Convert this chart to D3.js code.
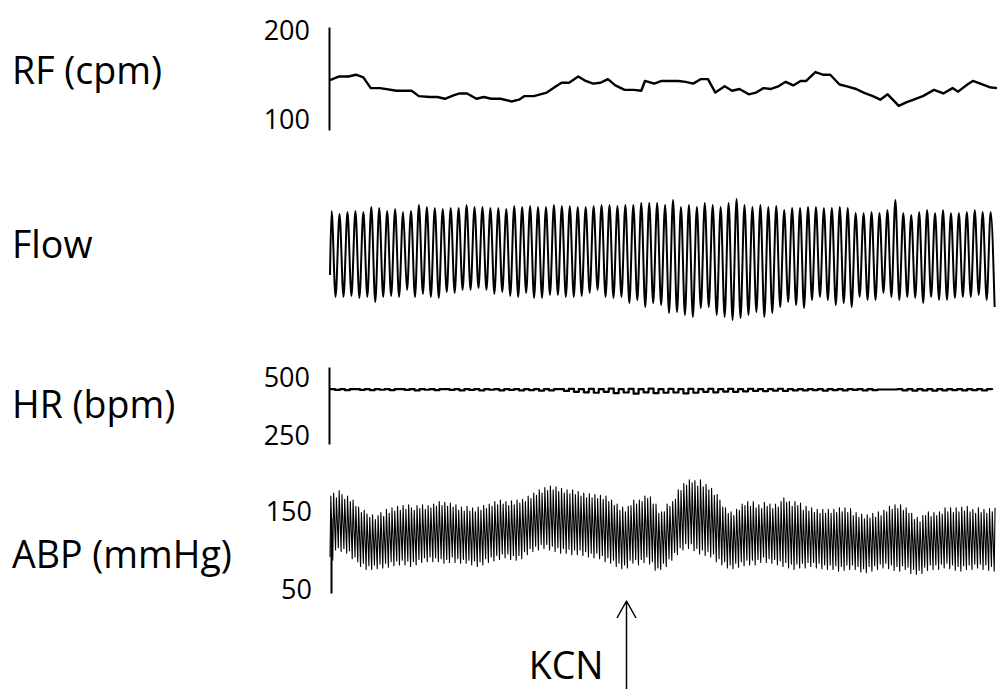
<!DOCTYPE html>
<html>
<head>
<meta charset="utf-8">
<script src="https://cdn.jsdelivr.net/npm/d3@7"></script>
<style>
  body { margin: 0; background: #fff; }
  svg { display: block; }
  .label { font-family: "Open Sans", sans-serif; font-size: 37.5px; fill: #000; }
  .trace { fill: none; stroke: #000; stroke-linejoin: round; }
</style>
</head>
<body>
<svg class="plot" width="1000" height="689"></svg>
<script>
// recording length in seconds, all traces share it
var duration = 36;

// respiratory frequency (cpm), one point per breath
var rfTime = [0,0.5,1.0,1.4,1.8,2.2,2.7,3.6,4.4,4.8,
  5.4,5.8,6.2,6.7,7.0,7.4,7.9,8.3,8.7,9.2,
  9.8,10.2,10.5,11.0,11.7,12.2,12.5,12.9,13.4,13.8,
  14.2,14.6,15.0,15.4,15.9,16.4,16.8,17.0,17.5,17.9,
  18.8,19.2,19.6,20.0,20.4,20.8,21.3,21.7,22.1,22.6,
  23.0,23.4,23.8,24.2,24.6,25.0,25.4,25.7,26.2,26.6,
  27.0,27.5,27.9,28.4,28.8,29.3,29.7,30.1,30.7,31.1,
  31.5,32.0,32.6,33.1,33.6,33.9,34.4,34.7,35.1,35.6,36.0];
var rfValue = [145,149,149,151,148,136,136,133,133,127,
  126,126,124,128,130,130,124,126,124,124,
  121,123,127,127,131,138,142,142,149,144,
  141,142,146,139,134,134,133,144,141,144,
  144,143,141,146,146,131,138,133,135,129,
  131,136,135,138,143,139,144,144,154,151,
  151,140,138,135,131,127,123,129,116,120,
  123,127,134,130,136,132,140,144,141,137,136];

// airflow (a.u.): start value, then peak and trough of each breath
var flowStart = 55;
var flowPeak = [119,116,118,119,118,123,122,119,121,118,119,125,123,122,121,122,122,125,123,123,122,
  122,121,124,123,124,123,123,125,124,124,123,123,124,125,125,124,125,125,127,127,127,
  125,130,123,125,123,127,125,123,127,131,125,123,125,123,124,120,122,122,123,123,122,
  122,123,122,117,117,118,117,120,130,117,115,118,120,117,120,117,117,118,120,118,118];
var flowTrough = [33,33,34,32,33,28,33,34,33,40,33,36,33,32,38,37,40,40,42,40,36,
  38,34,33,37,32,32,35,35,33,33,34,37,40,33,32,33,27,30,23,27,25,
  17,18,15,13,22,23,15,13,10,12,15,18,13,17,23,28,25,22,30,33,30,
  25,27,23,33,30,30,37,33,30,33,32,27,33,30,30,32,33,33,35,30,23];

// heart rate (bpm), evenly sampled
var hrValue = [452,448,452,447,452,452,448,452,447,452,449,452,447,452,452,448,452,446,452,449,452,447,452,
  452,448,452,446,452,448,452,446,452,449,452,446,452,448,452,446,452,447,452,445,452,446,452,
  452,444,453,440,452,438,453,436,452,440,454,434,452,437,453,432,
  452,438,454,434,452,436,453,437,452,433,453,436,452,440,453,438,
  452,441,453,440,452,442,453,444,452,443,452,445,453,444,452,446,
  452,446,452,447,452,445,452,447,452,446,452,448,452,446,452,447,450,450,450,450,
  452,446,452,445,452,446,452,445,452,446,452,447,452,446,452,447,452,446,452,448];

// arterial blood pressure (mmHg), systolic and diastolic of each beat
var abpSys = [170,174,168,177,172,166,170,163,165,157,
  156,149,152,147,143,146,140,145,149,144,
  153,148,155,151,157,152,158,153,159,155,
  152,158,154,159,153,158,155,160,157,163,
  158,162,157,161,156,159,152,156,151,157,
  151,155,150,156,152,158,154,160,157,163,
  159,165,160,163,158,164,159,165,161,166,
  163,170,167,174,171,178,174,181,177,183,
  178,182,176,180,174,178,173,178,172,176,
  170,174,168,173,168,172,167,171,166,170,
  163,165,158,160,152,156,150,157,158,165,
  160,165,163,170,167,169,160,160,148,150,
  150,160,157,163,166,178,177,186,184,191,
  187,190,183,191,182,185,178,180,171,172,
  165,156,155,148,150,145,153,152,160,158,
  163,157,163,155,159,154,162,157,160,154,
  160,156,163,168,162,163,157,163,158,161,
  152,157,151,155,149,153,148,153,148,153,
  148,153,149,155,150,155,149,154,145,149,
  143,147,141,146,142,148,143,150,145,152,
  150,157,153,159,154,159,152,155,148,148,
  140,143,137,145,145,150,144,149,145,150,
  147,155,150,155,149,155,150,156,151,157,
  150,153,148,155,149,153,148,154,150,155];
var abpDia = [92,88,101,104,99,103,97,100,90,92,
  86,80,84,76,81,76,82,77,83,78,
  84,79,86,81,87,82,88,82,87,80,
  86,82,89,85,91,86,92,86,91,86,
  90,84,89,85,92,85,90,84,89,84,
  88,82,87,80,86,82,90,85,92,87,
  94,89,96,91,96,89,94,88,94,90,
  99,95,103,99,106,101,108,103,108,101,
  106,99,104,97,103,97,102,95,101,95,
  101,94,99,92,97,91,97,90,94,86,
  91,84,88,80,84,77,82,78,88,84,
  89,82,89,85,92,83,86,75,78,76,
  84,80,90,88,98,95,104,101,109,103,
  109,100,103,96,101,94,99,92,96,86,
  90,82,86,78,82,77,84,79,86,81,
  88,82,88,82,89,85,92,85,90,84,
  89,82,87,80,85,78,83,76,83,78,
  84,78,85,80,85,78,84,77,82,76,
  82,76,81,74,80,75,82,76,82,76,
  80,73,77,72,80,74,81,76,83,78,
  84,77,82,75,80,74,81,76,79,71,
  76,70,75,71,79,75,82,76,82,76,
  83,78,84,77,82,75,80,74,81,76,
  82,76,83,78,83,76,82,75,80,74];

var svg = d3.select(".plot");

// shared time axis (not drawn)
var x = d3.scaleLinear().domain([0, duration]).range([330, 997]);

// one vertical scale per panel, domain = extent of its axis line
var yRF = d3.scaleLinear().domain([89, 204.5]).range([130, 27]),
    yFlow = d3.scaleLinear().domain([0, 140]).range([330, 190]),
    yHR = d3.scaleLinear().domain([215, 547]).range([444, 367]),
    yABP = d3.scaleLinear().domain([46, 142]).range([593, 518]);

// panel titles on the left
var titles = [["RF (cpm)", 84], ["Flow", 258], ["HR (bpm)", 418], ["ABP (mmHg)", 568]];
svg.selectAll(".title").data(titles).enter().append("text")
    .attr("class", "label title")
    .attr("x", 12)
    .attr("y", function(d) { return d[1]; })
    .text(function(d) { return d[0]; });

// y axes: just the line and two labels
function drawAxis(scale, ticks, xPos) {
  var g = svg.append("g")
      .attr("transform", "translate(" + xPos + ",0)")
      .call(d3.axisLeft(scale).tickValues(ticks).tickSize(0).tickPadding(19));
  g.attr("font-family", "'Open Sans', sans-serif").attr("font-size", 27);
  g.select(".domain").attr("stroke", "#000").attr("stroke-width", 2);
  g.selectAll("text").attr("fill", "#000");
}
drawAxis(yRF, [100, 200], 329);
drawAxis(yHR, [250, 500], 329);
drawAxis(yABP, [50, 150], 331);

// RF trace
var rfData = rfTime.map(function(t, i) { return [t, rfValue[i]]; });
svg.append("path")
    .attr("class", "trace")
    .attr("stroke-width", 2.4)
    .attr("d", d3.line()
      .x(function(d) { return x(d[0]); })
      .y(function(d) { return yRF(d[1]); })(rfData));

// Flow trace: peaks and troughs of each breath joined smoothly
var period = duration / flowPeak.length;
var flowData = [[0, flowStart]];
flowPeak.forEach(function(p, k) {
  flowData.push([(k + 0.2) * period, p]);
  flowData.push([(k + 0.7) * period, flowTrough[k]]);
});
svg.append("path")
    .attr("class", "trace")
    .attr("stroke-width", 2)
    .attr("d", d3.line()
      .curve(d3.curveMonotoneX)
      .x(function(d) { return x(d[0]); })
      .y(function(d) { return yFlow(d[1]); })(flowData));

// HR trace, stepped
var hrStep = duration / hrValue.length;
svg.append("path")
    .attr("class", "trace")
    .attr("stroke-width", 2.2)
    .attr("d", d3.line()
      .curve(d3.curveStepAfter)
      .x(function(d, i) { return x(i * hrStep); })
      .y(function(d) { return yHR(d); })(hrValue));

// ABP trace: fast rise to systole, decay to next diastole
var beat = duration / abpSys.length;
var abpData = [];
abpSys.forEach(function(s, i) {
  abpData.push([i * beat, abpDia[i]]);
  abpData.push([(i + 0.3) * beat, s]);
});
svg.append("path")
    .attr("class", "trace")
    .attr("stroke-width", 1.1)
    .attr("d", d3.line()
      .x(function(d) { return x(d[0]); })
      .y(function(d) { return yABP(d[1]); })(abpData));

// KCN injection marker
var kcnTime = 16;
var ax = Math.round(x(kcnTime)) + 0.5;
svg.append("path")
    .attr("class", "trace")
    .attr("stroke-width", 1.5)
    .attr("d", "M" + ax + ",689V601M" + (ax - 9.5) + ",618L" + ax + ",601L" + (ax + 9.5) + ",618");
svg.append("text")
    .attr("class", "label")
    .attr("x", ax - 23)
    .attr("y", 679)
    .attr("text-anchor", "end")
    .text("KCN");
</script>
</body>
</html>
